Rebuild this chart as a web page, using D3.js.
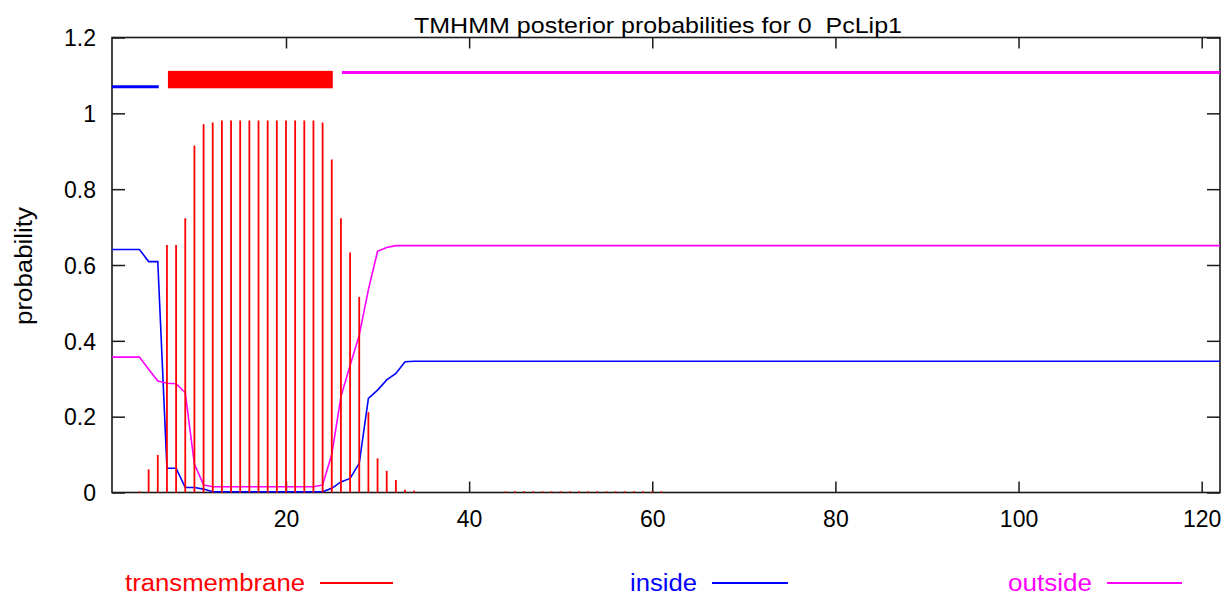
<!DOCTYPE html>
<html>
<head>
<meta charset="utf-8">
<script src="https://cdn.jsdelivr.net/npm/d3@7"></script>
<style>
  html, body { margin: 0; padding: 0; background: #ffffff; }
  svg { display: block; }
  text { font-family: "Liberation Sans", Arial, Helvetica, sans-serif; }
</style>
</head>
<body>
<svg id="chart" width="1231" height="595"></svg>
<script>
// ---------------- DATA ----------------
const titleText = "TMHMM posterior probabilities for 0  PcLip1";
const yLabel = "probability";
const xTicks = [20, 40, 60, 80, 100, 120];
const yTicks = [0, 0.2, 0.4, 0.6, 0.8, 1, 1.2];
const yTickLabels = ["0", "0.2", "0.4", "0.6", "0.8", "1", "1.2"];
const xDomain = [1, 122];
const yDomain = [0, 1.2];

// posterior probability per residue position (1..122)
const transmembrane = [
  0, 0, 0, 0.002, 0.061, 0.099, 0.653, 0.653, 0.723, 0.915,
  0.971, 0.976, 0.981, 0.981, 0.981, 0.981, 0.981, 0.981, 0.981, 0.981,
  0.981, 0.981, 0.981, 0.976, 0.878, 0.723, 0.633, 0.516, 0.212, 0.090,
  0.057, 0.033, 0.007, 0.005, 0, 0, 0, 0, 0, 0,
  0, 0, 0, 0.003, 0.003, 0.003, 0.003, 0.003, 0.003, 0.003,
  0.003, 0.003, 0.003, 0.003, 0.003, 0.003, 0.003, 0.003, 0.003, 0.003,
  0.003, 0, 0, 0, 0, 0, 0, 0, 0, 0,
  0, 0, 0, 0, 0, 0, 0, 0, 0, 0,
  0, 0, 0, 0, 0, 0, 0, 0, 0, 0,
  0, 0, 0, 0, 0, 0, 0, 0, 0, 0,
  0, 0, 0, 0, 0, 0, 0, 0, 0, 0,
  0, 0, 0, 0, 0, 0, 0, 0, 0, 0,
  0, 0
];
const inside = [
  0.641, 0.641, 0.641, 0.641, 0.609, 0.609, 0.064, 0.064, 0.013, 0.013,
  0.009, 0.002, 0.002, 0.002, 0.002, 0.002, 0.002, 0.002, 0.002, 0.002,
  0.002, 0.002, 0.002, 0.002, 0.011, 0.028, 0.037, 0.077, 0.248, 0.270,
  0.297, 0.314, 0.345, 0.346, 0.346, 0.346, 0.346, 0.346, 0.346, 0.346,
  0.346, 0.346, 0.346, 0.346, 0.346, 0.346, 0.346, 0.346, 0.346, 0.346,
  0.346, 0.346, 0.346, 0.346, 0.346, 0.346, 0.346, 0.346, 0.346, 0.346,
  0.346, 0.346, 0.346, 0.346, 0.346, 0.346, 0.346, 0.346, 0.346, 0.346,
  0.346, 0.346, 0.346, 0.346, 0.346, 0.346, 0.346, 0.346, 0.346, 0.346,
  0.346, 0.346, 0.346, 0.346, 0.346, 0.346, 0.346, 0.346, 0.346, 0.346,
  0.346, 0.346, 0.346, 0.346, 0.346, 0.346, 0.346, 0.346, 0.346, 0.346,
  0.346, 0.346, 0.346, 0.346, 0.346, 0.346, 0.346, 0.346, 0.346, 0.346,
  0.346, 0.346, 0.346, 0.346, 0.346, 0.346, 0.346, 0.346, 0.346, 0.346,
  0.346, 0.346
];
const outside = [
  0.357, 0.357, 0.357, 0.357, 0.325, 0.294, 0.288, 0.287, 0.263, 0.075,
  0.020, 0.015, 0.015, 0.015, 0.015, 0.015, 0.015, 0.015, 0.015, 0.015,
  0.015, 0.015, 0.015, 0.020, 0.100, 0.253, 0.335, 0.415, 0.535, 0.636,
  0.646, 0.651, 0.651, 0.651, 0.651, 0.651, 0.651, 0.651, 0.651, 0.651,
  0.651, 0.651, 0.651, 0.651, 0.651, 0.651, 0.651, 0.651, 0.651, 0.651,
  0.651, 0.651, 0.651, 0.651, 0.651, 0.651, 0.651, 0.651, 0.651, 0.651,
  0.651, 0.651, 0.651, 0.651, 0.651, 0.651, 0.651, 0.651, 0.651, 0.651,
  0.651, 0.651, 0.651, 0.651, 0.651, 0.651, 0.651, 0.651, 0.651, 0.651,
  0.651, 0.651, 0.651, 0.651, 0.651, 0.651, 0.651, 0.651, 0.651, 0.651,
  0.651, 0.651, 0.651, 0.651, 0.651, 0.651, 0.651, 0.651, 0.651, 0.651,
  0.651, 0.651, 0.651, 0.651, 0.651, 0.651, 0.651, 0.651, 0.651, 0.651,
  0.651, 0.651, 0.651, 0.651, 0.651, 0.651, 0.651, 0.651, 0.651, 0.651,
  0.651, 0.651
];

// predicted topology segments (start, end residue)
const topologyTypes = ["inside", "transmembrane", "outside"];
const topologyStarts = [1, 7, 26];
const topologyEnds = [6, 25, 122];

const legendLabels = ["transmembrane", "inside", "outside"];

// ---------------- STYLE ----------------
const W = 1231, H = 595;
const plot = { left: 112, right: 1220, top: 37.5, bottom: 492.5 };
const colors = { transmembrane: "#ff0000", inside: "#0000ff", outside: "#ff00ff" };
const topoY = { inside: 1.07, outside: 1.108 };
const tmBand = [1.066, 1.112];

const svg = d3.select("#chart");

const x = d3.scaleLinear().domain(xDomain).range([plot.left, plot.right]);
const y = d3.scaleLinear().domain(yDomain).range([plot.bottom, plot.top]);
const positions = transmembrane.map((_, i) => i + 1);

// axes (inward ticks, mirrored)
const tickFmt = d => yTickLabels[yTicks.indexOf(d)];
const axisStyle = g => {
  g.select(".domain").remove();
  g.selectAll(".tick line").attr("stroke", "#1a1a1a").attr("stroke-width", 1.5);
  g.selectAll(".tick text").attr("fill", "#000").style("font-size", "23px")
    .style("font-family", "\"Liberation Sans\", Arial, sans-serif");
};

svg.append("g").attr("transform", `translate(0,${plot.bottom})`)
  .call(d3.axisBottom(x).tickValues(xTicks).tickSize(-11).tickPadding(18).tickFormat(d3.format("d")))
  .call(axisStyle);
svg.append("g").attr("transform", `translate(0,${plot.top})`)
  .call(d3.axisTop(x).tickValues(xTicks).tickSize(-11).tickFormat(""))
  .call(axisStyle);
svg.append("g").attr("transform", `translate(${plot.left},0)`)
  .call(d3.axisLeft(y).tickValues(yTicks).tickSize(-13).tickPadding(16).tickFormat(tickFmt))
  .call(axisStyle)
  .selectAll(".tick text").attr("dy", "0.36em");
svg.append("g").attr("transform", `translate(${plot.right},0)`)
  .call(d3.axisRight(y).tickValues(yTicks).tickSize(-13).tickFormat(""))
  .call(axisStyle);

// frame
svg.append("rect")
  .attr("x", plot.left).attr("y", plot.top)
  .attr("width", plot.right - plot.left).attr("height", plot.bottom - plot.top)
  .attr("fill", "none").attr("stroke", "#1a1a1a").attr("stroke-width", 1.6);

// topology bar
topologyTypes.forEach((t, k) => {
  if (t === "transmembrane") {
    svg.append("rect")
      .attr("x", x(topologyStarts[k]) + 1).attr("y", y(tmBand[1]))
      .attr("width", x(topologyEnds[k]) - x(topologyStarts[k]))
      .attr("height", y(tmBand[0]) - y(tmBand[1]))
      .attr("fill", colors[t]);
  } else {
    svg.append("line")
      .attr("x1", x(topologyStarts[k]) + (k === 0 ? 0 : 1))
      .attr("x2", Math.min(x(topologyEnds[k]) + 1, plot.right))
      .attr("y1", y(topoY[t])).attr("y2", y(topoY[t]))
      .attr("stroke", colors[t]).attr("stroke-width", 3);
  }
});

// probability lines
const line = d3.line().x((d, i) => x(positions[i])).y(d => y(d));
svg.append("path").datum(inside)
  .attr("d", line).attr("fill", "none").attr("stroke", colors.inside).attr("stroke-width", 1.6);
svg.append("path").datum(outside)
  .attr("d", line).attr("fill", "none").attr("stroke", colors.outside).attr("stroke-width", 1.6);

// transmembrane impulses
svg.append("g").selectAll("line")
  .data(transmembrane.map((v, i) => ({ p: positions[i], v })).filter(d => d.v > 0))
  .join("line")
  .attr("x1", d => x(d.p)).attr("x2", d => x(d.p))
  .attr("y1", y(0)).attr("y2", d => Math.min(y(d.v), y(0) - 1.2))
  .attr("stroke", colors.transmembrane).attr("stroke-width", 1.8);

// title
svg.append("text")
  .attr("x", 658).attr("y", 33)
  .attr("text-anchor", "middle")
  .attr("textLength", 488).attr("lengthAdjust", "spacingAndGlyphs")
  .style("white-space", "pre")
  .style("font-size", "22px").attr("fill", "#000")
  .text(titleText);

// y label
svg.append("text")
  .attr("transform", "translate(32,266) rotate(-90)")
  .attr("text-anchor", "middle")
  .attr("textLength", 118).attr("lengthAdjust", "spacingAndGlyphs")
  .style("font-size", "23px").attr("fill", "#000")
  .text(yLabel);

// legend
const legendTextX = [125, 630, 1008];
const legendTextW = [180, 67, 84];
const legendLineX = [[320, 393], [712, 788], [1107, 1182]];
const lg = svg.append("g").selectAll("g").data(legendLabels).join("g");
lg.append("text")
  .attr("x", (d, i) => legendTextX[i]).attr("y", 591)
  .attr("textLength", (d, i) => legendTextW[i]).attr("lengthAdjust", "spacingAndGlyphs")
  .style("font-size", "23px")
  .attr("fill", d => colors[d])
  .text(d => d);
lg.append("line")
  .attr("x1", (d, i) => legendLineX[i][0]).attr("x2", (d, i) => legendLineX[i][1])
  .attr("y1", 583).attr("y2", 583)
  .attr("stroke", d => colors[d]).attr("stroke-width", 2);
</script>
</body>
</html>
